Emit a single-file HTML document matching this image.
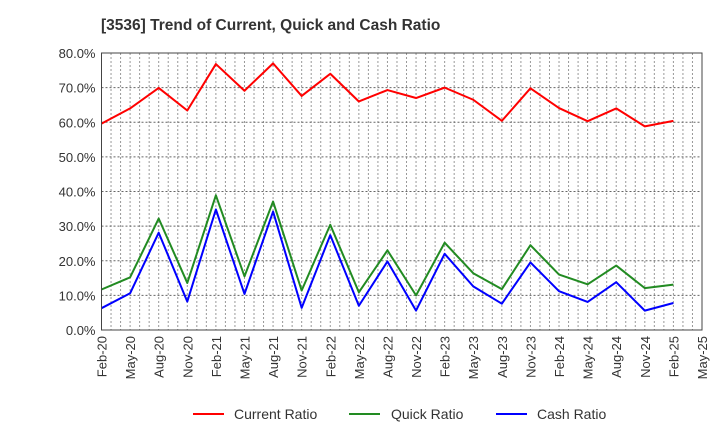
<!DOCTYPE html>
<html><head><meta charset="utf-8"><style>
body{margin:0;background:#fff;font-family:"Liberation Sans",sans-serif;}
svg text{font-family:"Liberation Sans",sans-serif;}
</style></head><body>
<svg width="720" height="440" viewBox="0 0 720 440">
<text x="101" y="30" font-size="15.5" font-weight="bold" fill="#333">[3536]  Trend of Current, Quick and Cash Ratio</text>
<g id="grid"></g>
<g id="yaxis"></g>
<g id="xaxis"></g>
<g id="series"></g>
<rect x="101.5" y="53" width="600.5" height="277" fill="none" stroke="#444" stroke-width="1"/>
<g>
<g><line x1="193" y1="414" x2="224" y2="414" stroke="#ff0000" stroke-width="2"/><text x="234" y="419" font-size="14" fill="#333">Current Ratio</text></g>
<g><line x1="349" y1="414" x2="380" y2="414" stroke="#228b22" stroke-width="2"/><text x="391" y="419" font-size="14" fill="#333">Quick Ratio</text></g>
<g><line x1="496" y1="414" x2="527" y2="414" stroke="#0000ff" stroke-width="2"/><text x="537" y="419" font-size="14" fill="#333">Cash Ratio</text></g>
</g>
</svg>
<script>
const xLabels=["Feb-20","May-20","Aug-20","Nov-20","Feb-21","May-21","Aug-21","Nov-21","Feb-22","May-22","Aug-22","Nov-22","Feb-23","May-23","Aug-23","Nov-23","Feb-24","May-24","Aug-24","Nov-24","Feb-25","May-25"];
const yTicks=[0,10,20,30,40,50,60,70,80];
const currentRatio=[59.6,64,69.9,63.4,76.8,69.1,77,67.6,74,66,69.3,67,70,66.5,60.4,69.8,64.1,60.3,64,58.8,60.4];
const quickRatio=[11.7,15.2,32.2,13.6,38.9,15.5,37.1,11.4,30.4,10.9,23,10,25.2,16.4,11.8,24.5,16,13.2,18.6,12.1,13.1];
const cashRatio=[6.3,10.6,28.1,8.2,34.8,10.4,34.2,6.4,27.4,7,19.8,5.6,22,12.6,7.6,19.5,11.2,8.1,13.8,5.6,7.8];
const NS="http://www.w3.org/2000/svg";
const L=101.5,R=702,T=53,B=330;
const step=(R-L)/(xLabels.length-1);
const xs=i=>L+i*step;
const ys=v=>B-(v/80)*(B-T);
function mk(tag,attrs,parent){const e=document.createElementNS(NS,tag);for(const k in attrs)e.setAttribute(k,attrs[k]);parent.appendChild(e);return e;}
const grid=document.getElementById('grid'),ya=document.getElementById('yaxis'),xa=document.getElementById('xaxis'),sr=document.getElementById('series');
const months=(xLabels.length-1)*3;
for(let m=1;m<months;m++){const x=L+m*(R-L)/months;
const g=mk('line',{x1:x,x2:x,y1:T,y2:B,stroke:'#999','stroke-width':1,'stroke-dasharray':'2,2'},grid);

}
yTicks.forEach(v=>{const y=ys(v);
const g=mk('line',{x1:L,x2:R,y1:y,y2:y,stroke:'#666','stroke-width':1,'stroke-dasharray':'2,2'},grid);


const t=mk('text',{x:L-6,y:y+5,'text-anchor':'end','font-size':13,fill:'#333'},ya);t.textContent=v.toFixed(1)+'%';

});
xLabels.forEach((lab,i)=>{const x=xs(i);
const t=mk('text',{x:0,y:0,'text-anchor':'end','font-size':13,fill:'#333',transform:`translate(${x+5},${B+6}) rotate(-90)`},xa);t.textContent=lab;

});
[[currentRatio,'#ff0000','current-ratio-line'],[quickRatio,'#228b22','quick-ratio-line'],[cashRatio,'#0000ff','cash-ratio-line']].forEach(([d,c,n])=>{
const p=mk('polyline',{points:d.map((v,i)=>xs(i)+','+ys(v)).join(' '),fill:'none',stroke:c,'stroke-width':2,'stroke-linejoin':'round'},sr);

});
</script>
</body></html>
